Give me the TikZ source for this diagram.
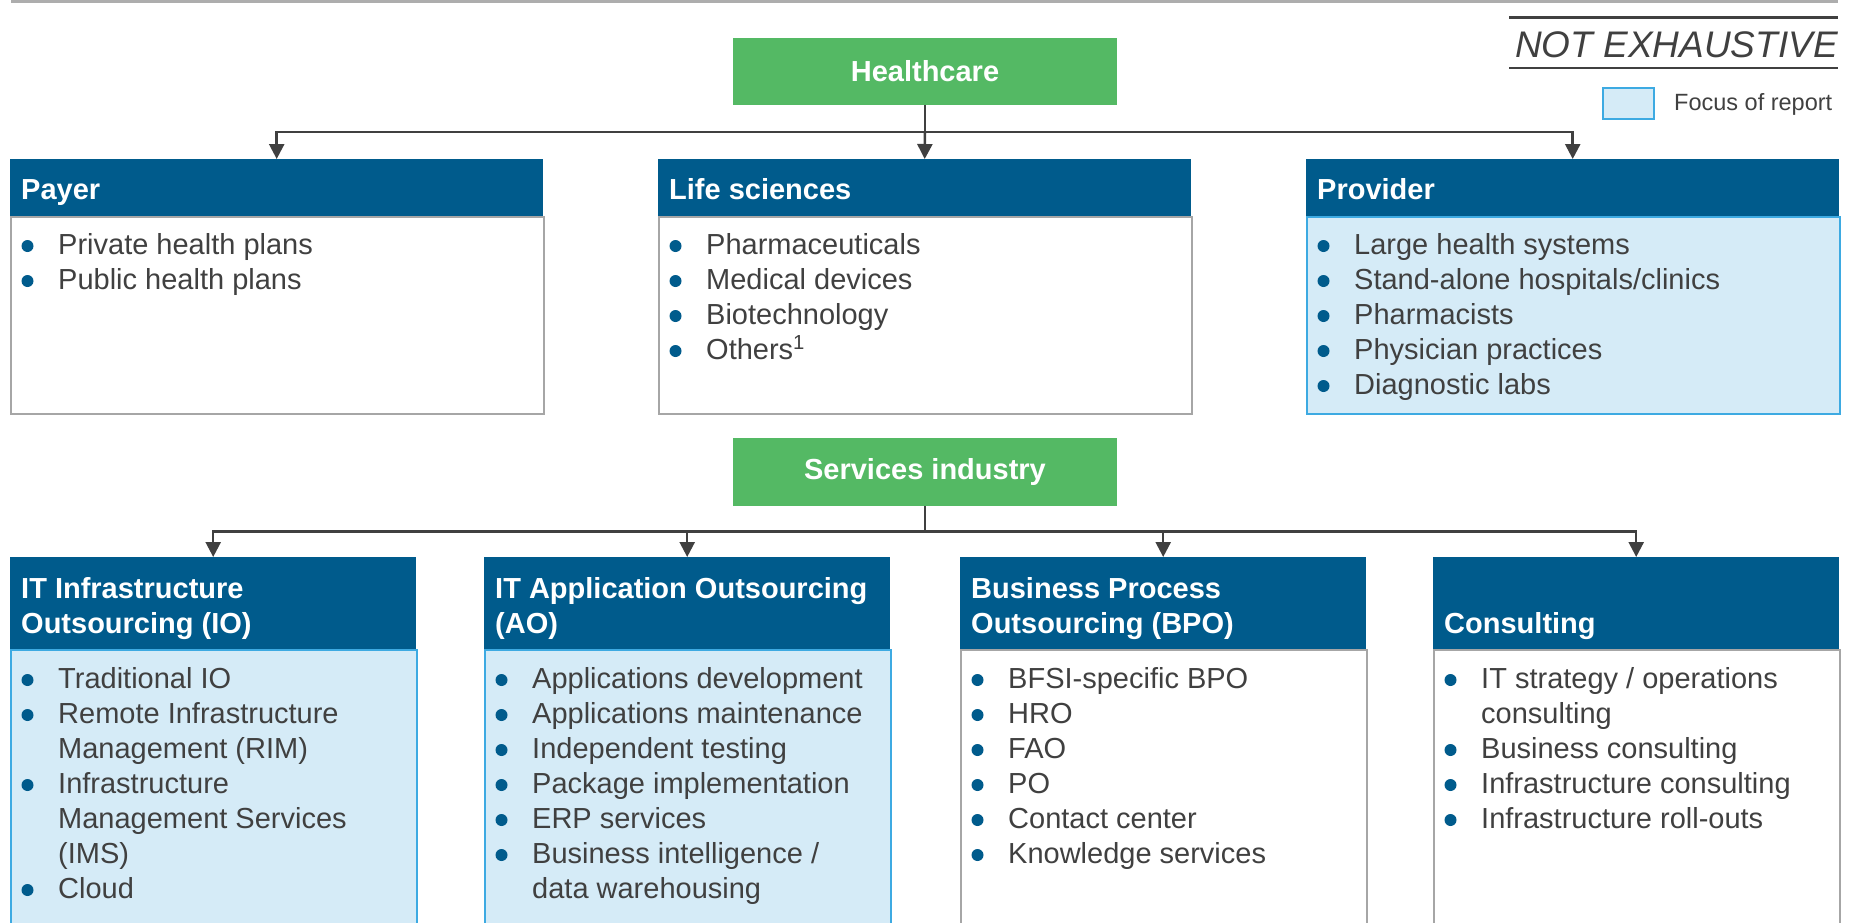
\documentclass[tikz,border=0pt]{standalone}
\usepackage{fontspec}
\setmainfont{Liberation Sans}
\usetikzlibrary{arrows.meta}
\definecolor{hblue}{HTML}{005B8C}
\definecolor{hgreen}{HTML}{54B964}
\definecolor{lblue}{HTML}{D5EBF7}
\definecolor{lbord}{HTML}{3DAAE2}
\definecolor{gbord}{HTML}{A6A6A6}
\definecolor{txt}{HTML}{404040}
\definecolor{topline}{HTML}{ADADAD}
\newcommand\twol[2]{\vtop{\hbox{#1}\hbox{#2}}}
\newcommand\threel[3]{\vtop{\hbox{#1}\hbox{#2}\hbox{#3}}}
\newcommand\bitem[4]{%
  \fill[hblue] ({#2+17.5},{#3-8}) circle[radius=6pt];
  \node[itemtext] (#1) at ({#2+48},#3) {#4};}
\begin{document}
\begin{tikzpicture}[x=1pt,y=-1pt,
  font=\fontsize{29}{35}\selectfont,
  greenbox/.style={fill=hgreen, draw=none, text=white, font=\fontsize{29}{35}\selectfont\bfseries, minimum width=384pt, minimum height=67pt, inner sep=0},
  headbox/.style={fill=hblue, draw=none, inner sep=0, anchor=north west},
  focusbody/.style={fill=lblue, draw=lbord, line width=2pt, inner sep=0, anchor=north west},
  plainbody/.style={fill=white, draw=gbord, line width=2pt, inner sep=0, anchor=north west},
  headtext/.style={text=white, font=\fontsize{29}{35}\selectfont\bfseries, anchor=base west, inner sep=0},
  itemtext/.style={text=txt, anchor=base west, inner sep=0},
  conn/.style={draw=txt, line width=2.5pt},
  arr/.style={conn, -{Triangle[width=15pt,length=15pt]}},
  topw/.style={minimum width=533pt},
  botw/.style={minimum width=406pt},
]
\useasboundingbox (0,0) rectangle (1849,922);
\clip (0,0) rectangle (1849,922);

% top rule
\draw[topline, line width=3pt] (11,1.5) -- (1838,1.5);

% NOT EXHAUSTIVE + legend
\draw[txt, line width=2.5pt] (1509,17.5) -- (1838,17.5);
\draw[txt, line width=2.5pt] (1509,68) -- (1838,68);
\node[text=txt, font=\fontsize{37}{40}\selectfont\itshape, anchor=base east, inner sep=0] (notex) at (1838,57) {NOT EXHAUSTIVE};
\node[fill=lblue, draw=lbord, line width=2pt, minimum width=51pt, minimum height=31pt, inner sep=0, anchor=north west] (leg) at (1602,87) {};
\node[text=txt, font=\fontsize{23.5}{28}\selectfont, anchor=base west, inner sep=0] (legtxt) at (1674,110) {Focus of report};

% ---------- Healthcare ----------
\node[greenbox] (hc) at (925,71) {Healthcare};

\node[headbox, topw, minimum height=57pt] (payerH) at (10,159) {};
\node[plainbody, topw, minimum height=197pt] (payerB) at (10,216) {};
\node[headtext] (payerT) at (21,199) {Payer};
\bitem{p1}{10}{254}{Private health plans}
\bitem{p2}{10}{289}{Public health plans}

\node[headbox, topw, minimum height=57pt] (lsH) at (658,159) {};
\node[plainbody, topw, minimum height=197pt] (lsB) at (658,216) {};
\node[headtext] (lsT) at (669,199) {Life sciences};
\bitem{l1}{658}{254}{Pharmaceuticals}
\bitem{l2}{658}{289}{Medical devices}
\bitem{l3}{658}{324}{Biotechnology}
\bitem{l4}{658}{359}{Others\textsuperscript{1}}

\node[headbox, topw, minimum height=57pt] (prH) at (1306,159) {};
\node[focusbody, topw, minimum height=197pt] (prB) at (1306,216) {};
\node[headtext] (prT) at (1317,199) {Provider};
\bitem{r1}{1306}{254}{Large health systems}
\bitem{r2}{1306}{289}{Stand-alone hospitals/clinics}
\bitem{r3}{1306}{324}{Pharmacists}
\bitem{r4}{1306}{359}{Physician practices}
\bitem{r5}{1306}{394}{Diagnostic labs}

\coordinate (hbar) at (925,132);
\draw[conn] (hc.south) -- (hbar);
\draw[arr] (hbar) -| (payerH.north);
\draw[arr] (hbar) -- (lsH.north);
\draw[arr] (hbar) -| (prH.north);

% ---------- Services industry ----------
\node[greenbox, minimum height=68pt] (si) at (925,472) {Services industry};

\node[headbox, botw, minimum height=92pt] (ioH) at (10,557) {};
\node[focusbody, botw, minimum height=300pt] (ioB) at (10,649) {};
\node[headtext] (ioT) at (21,598) {\twol{IT Infrastructure}{Outsourcing (IO)}};
\bitem{i1}{10}{688}{Traditional IO}
\bitem{i2}{10}{723}{\twol{Remote Infrastructure}{Management (RIM)}}
\bitem{i3}{10}{793}{\threel{Infrastructure}{Management Services}{(IMS)}}
\bitem{i4}{10}{898}{Cloud}

\node[headbox, botw, minimum height=92pt] (aoH) at (484,557) {};
\node[focusbody, botw, minimum height=300pt] (aoB) at (484,649) {};
\node[headtext] (aoT) at (495,598) {\twol{IT Application Outsourcing}{(AO)}};
\bitem{a1}{484}{688}{Applications development}
\bitem{a2}{484}{723}{Applications maintenance}
\bitem{a3}{484}{758}{Independent testing}
\bitem{a4}{484}{793}{Package implementation}
\bitem{a5}{484}{828}{ERP services}
\bitem{a6}{484}{863}{\twol{Business intelligence /}{data warehousing}}

\node[headbox, botw, minimum height=92pt] (bpH) at (960,557) {};
\node[plainbody, botw, minimum height=300pt] (bpB) at (960,649) {};
\node[headtext] (bpT) at (971,598) {\twol{Business Process}{Outsourcing (BPO)}};
\bitem{b1}{960}{688}{BFSI-specific BPO}
\bitem{b2}{960}{723}{HRO}
\bitem{b3}{960}{758}{FAO}
\bitem{b4}{960}{793}{PO}
\bitem{b5}{960}{828}{Contact center}
\bitem{b6}{960}{863}{Knowledge services}

\node[headbox, botw, minimum height=92pt] (coH) at (1433,557) {};
\node[plainbody, botw, minimum height=300pt] (coB) at (1433,649) {};
\node[headtext] (coT) at (1444,633) {Consulting};
\bitem{c1}{1433}{688}{\twol{IT strategy / operations}{consulting}}
\bitem{c2}{1433}{758}{Business consulting}
\bitem{c3}{1433}{793}{Infrastructure consulting}
\bitem{c4}{1433}{828}{Infrastructure roll-outs}

\coordinate (sbar) at (925,531.5);
\draw[conn] (si.south) -- (sbar);
\draw[arr] (sbar) -| (ioH.north);
\draw[arr] (sbar) -| (aoH.north);
\draw[arr] (sbar) -| (bpH.north);
\draw[arr] (sbar) -| (coH.north);
\end{tikzpicture}
\end{document}
